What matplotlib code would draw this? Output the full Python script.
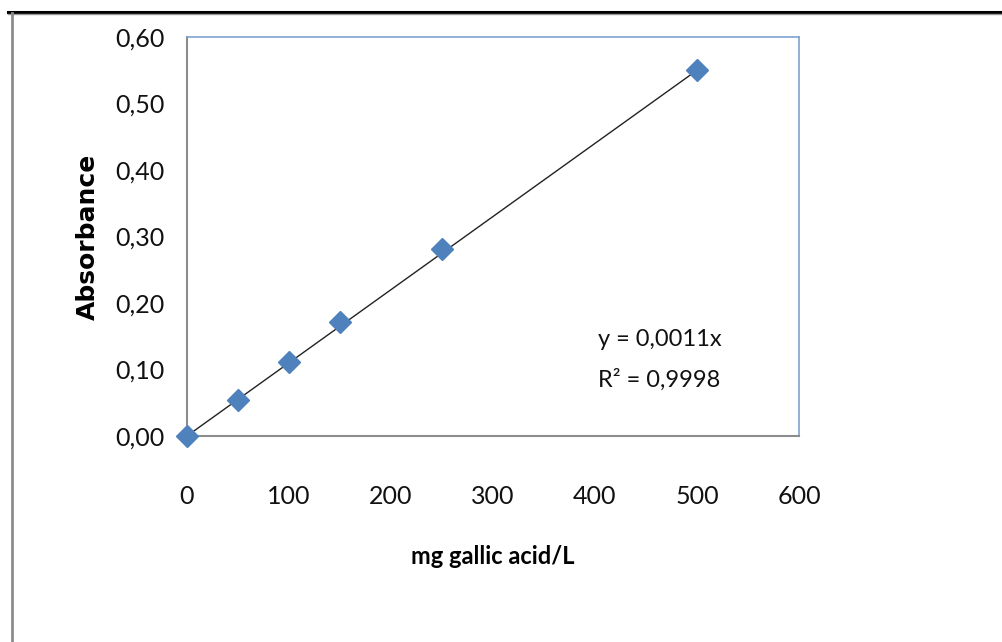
import numpy as np
import matplotlib
matplotlib.use("Agg")
import matplotlib.pyplot as plt
from matplotlib.lines import Line2D
from matplotlib.ticker import FuncFormatter

plt.rcParams['font.family'] = ['Lato', 'DejaVu Sans']

# calibration data
conc = [0, 50, 100, 150, 250, 500]                 # mg gallic acid/L
absorb = [0.000, 0.054, 0.112, 0.171, 0.281, 0.551]
slope = 0.0011
r2 = 0.9998
x_ticks = [0, 100, 200, 300, 400, 500, 600]
y_ticks = [0.0, 0.1, 0.2, 0.3, 0.4, 0.5, 0.6]

fig = plt.figure(figsize=(10.03, 6.42), dpi=100)
ax = fig.add_axes([0.1864, 0.3209, 0.6102, 0.6215])

# trendline through origin
xt = np.array([0, max(conc)])
ax.plot(xt, slope * xt, color='#222222', lw=1.0, zorder=2)
ax.plot(conc, absorb, 'D', color='#4F81BD', markersize=11, zorder=3,
        clip_on=False)

ax.set_xlim(0, 600)
ax.set_ylim(0, 0.6)
ax.set_xticks(x_ticks)
ax.set_yticks(y_ticks)
ax.yaxis.set_major_formatter(FuncFormatter(lambda v, p: f"{v:.2f}".replace('.', ',')))
ax.tick_params(length=0, labelsize=18, colors='#111111')
ax.tick_params(axis='x', pad=35)
ax.tick_params(axis='y', pad=16)

for s in ['left', 'bottom']:
    ax.spines[s].set_color('#8C8C8C')
    ax.spines[s].set_linewidth(1.5)
for s in ['top', 'right']:
    ax.spines[s].set_color('#7FA3D0')
    ax.spines[s].set_linewidth(1.2)

ax.set_xlabel('mg gallic acid/L', fontsize=17, fontweight='bold')
ax.xaxis.set_label_coords(0.5, -0.272)
ax.set_ylabel('Absorbance', fontsize=18, fontweight='bold', family='DejaVu Sans')
ax.yaxis.set_label_coords(-0.142, 0.5)

ax.text(0.672, 0.2406, f"y = {slope}x".replace('.', ','), transform=ax.transAxes,
        fontsize=17, color='#111111', va='center')
ax.text(0.672, 0.1404, f"R\u00b2 = {r2}".replace('.', ','), transform=ax.transAxes,
        fontsize=17, color='#111111', va='center')

# page frame
fig.add_artist(Line2D([0.008, 1.0], [0.982, 0.982], color='black', lw=2.2))
fig.add_artist(Line2D([0.008, 1.0], [0.978, 0.978], color='#999999', lw=1.0))
fig.add_artist(Line2D([0.0115, 0.0115], [0.0, 0.979], color='#8C8C8C', lw=2.0))

fig.savefig('out.png', dpi=100)
